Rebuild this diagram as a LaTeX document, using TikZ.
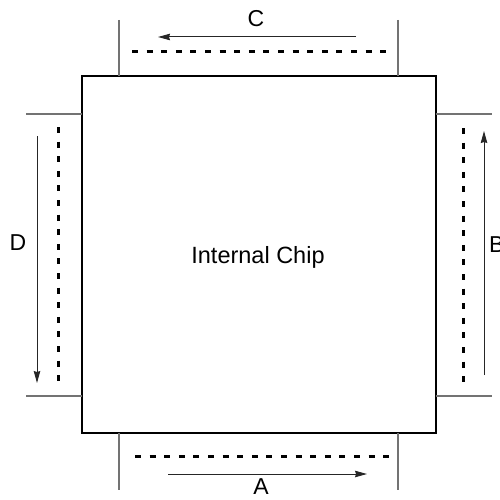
\documentclass[tikz,border=0pt]{standalone}
\usepackage{fontspec}
\setmainfont{Liberation Sans}
\usetikzlibrary{arrows.meta}
\begin{document}
\begin{tikzpicture}[x=1pt,y=-1pt,
  lead/.style={draw=black!55,line width=1.1pt},
  dots/.style={line width=3pt,dash pattern=on 6pt off 8.6pt},
  flow/.style={draw=black!85,line width=1pt,-{Stealth[length=12pt,width=6.5pt,inset=1pt]}},
  lbl/.style={font=\fontsize{23}{26}\selectfont,inner sep=0pt}]
\useasboundingbox (0,0) rectangle (500,500);
\node[draw,line width=2pt,minimum width=354pt,minimum height=356pt] (chip) at (258.5,254.5) {};
\node[font=\fontsize{23.5}{26}\selectfont,inner sep=0pt] (chiplabel) at (258,257) {Internal Chip};
% top
\draw[lead] (119,20) -- (119,76.5);
\draw[lead] (398,20) -- (398,76.5);
\draw[dots] (132,52) -- (392,52);
\coordinate (c1) at (356,37); \coordinate (c2) at (158,37);
\draw[flow] (c1) -- (c2);
\node[lbl] (C) at (256,19) {C};
% bottom
\draw[lead] (119,432.5) -- (119,490);
\draw[lead] (398,432.5) -- (398,490);
\draw[dots] (135,456) -- (394,456);
\coordinate (a1) at (168,474); \coordinate (a2) at (367,474);
\draw[flow] (a1) -- (a2);
\node[lbl] (A) at (261,487) {A};
% left
\draw[lead] (26,114) -- (81.5,114);
\draw[lead] (26,396) -- (81.5,396);
\draw[dots] (58,127) -- (58,386);
\coordinate (d1) at (37,136); \coordinate (d2) at (37,383);
\draw[flow] (d1) -- (d2);
\node[lbl] (D) at (18,243) {D};
% right
\draw[lead] (435.5,114) -- (492,114);
\draw[lead] (435.5,396) -- (492,396);
\draw[dots] (463,128) -- (463,387);
\coordinate (b1) at (484,375); \coordinate (b2) at (484,131);
\draw[flow] (b1) -- (b2);
\node[lbl,anchor=west] (B) at (489,245) {B};
\end{tikzpicture}
\end{document}
